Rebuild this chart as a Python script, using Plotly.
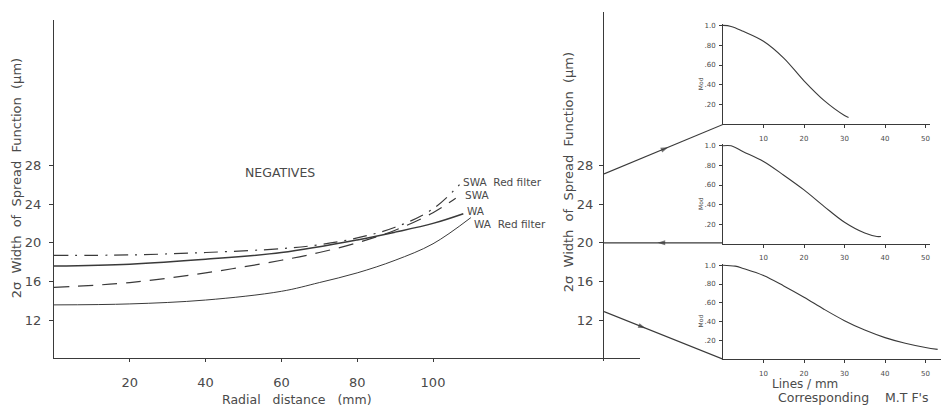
import plotly.graph_objects as go

W, H = 949, 408
OFF = 8              # page body margin in the browser
FW, FH = W - OFF, H - OFF

# ---------------- data ----------------
radial_ticks = [20, 40, 60, 80, 100]
width_ticks = [12, 16, 20, 24, 28]

swa_red_x = [0, 20, 40, 60, 70, 80, 90, 100, 107]
swa_red_y = [18.7, 18.75, 19.0, 19.4, 19.8, 20.5, 21.6, 23.5, 26.0]

swa_x = [0, 20, 40, 60, 70, 80, 90, 100, 106]
swa_y = [15.4, 15.9, 16.9, 18.2, 19.0, 20.0, 21.3, 23.1, 24.6]

wa_x = [0, 20, 40, 60, 80, 90, 100, 108]
wa_y = [17.6, 17.8, 18.3, 19.0, 20.3, 21.1, 22.0, 23.0]

wa_red_x = [0, 20, 40, 60, 70, 80, 90, 100, 110]
wa_red_y = [13.6, 13.7, 14.1, 15.0, 15.9, 16.9, 18.2, 19.9, 22.6]

curve_labels = ["SWA  Red filter", "SWA", "WA", "WA  Red filter"]

# connector lines: width value on axis -> level of MTF baseline
conn_start = [27.1, 20.0, 12.9]
conn_end = [32.2, 20.0, 8.0]
arrow_frac = [0.54, 0.45, 0.35]

mtf_top_x = [0, 2, 5, 10, 15, 20, 25, 30, 31]
mtf_top_y = [1.0, 0.99, 0.94, 0.84, 0.67, 0.44, 0.24, 0.09, 0.07]

mtf_mid_x = [0, 2, 5, 10, 15, 20, 25, 30, 35, 38, 39]
mtf_mid_y = [1.0, 1.0, 0.94, 0.84, 0.70, 0.55, 0.38, 0.22, 0.11, 0.075, 0.075]

mtf_bot_x = [0, 3, 5, 10, 15, 20, 25, 30, 35, 40, 45, 50, 53]
mtf_bot_y = [1.0, 0.99, 0.965, 0.89, 0.78, 0.66, 0.53, 0.41, 0.31, 0.23, 0.17, 0.125, 0.105]

mtf_xticks = [10, 20, 30, 40, 50]
mtf_yticks = [0.2, 0.4, 0.6, 0.8, 1.0]
mtf_ytext = [".20", ".40", ".60", ".80", "1.0"]

# ---------------- style ----------------
INK = "#3a3a3a"
TXT = "#4a4a4a"
FONT = "DejaVu Sans"


def dx(px):
    return (px - OFF) / FW


def dy(py):
    return 1 - (py - OFF) / FH


X_PX = 3.79   # px per mm
Y_PX = 9.75   # px per micron
M_PX = 4.05   # px per line/mm
Y0 = 8.1      # value at axis baseline (py 358)

fig = go.Figure()

# main curves
fig.add_trace(go.Scatter(x=swa_red_x, y=swa_red_y, mode="lines", line=dict(color=INK, width=1.2, dash="14px,7px,2px,7px", shape="spline"), xaxis="x", yaxis="y"))
fig.add_trace(go.Scatter(x=swa_x, y=swa_y, mode="lines", line=dict(color=INK, width=1.2, dash="15px,9px", shape="spline"), xaxis="x", yaxis="y"))
fig.add_trace(go.Scatter(x=wa_x, y=wa_y, mode="lines", line=dict(color=INK, width=1.5, shape="spline"), xaxis="x", yaxis="y"))
fig.add_trace(go.Scatter(x=wa_red_x, y=wa_red_y, mode="lines", line=dict(color=INK, width=1.0, shape="spline"), xaxis="x", yaxis="y"))

# curve end labels
ends = [(swa_red_x[-1], swa_red_y[-1], 2, 3), (swa_x[-1], swa_y[-1], 8, 3),
        (wa_x[-1], wa_y[-1], 3, 3), (wa_red_x[-1], wa_red_y[-1], 2, -6)]
annotations = []
for (ex, ey, xs, ys), lab in zip(ends, curve_labels):
    annotations.append(dict(x=ex, y=ey, xref="x", yref="y", text=lab, showarrow=False,
                            xanchor="left", yanchor="middle", xshift=xs, yshift=ys, borderpad=0,
                            font=dict(family=FONT, size=10.5, color=TXT)))

# connectors
orders = [False, True, False]
for s, e, f, rev in zip(conn_start, conn_end, arrow_frac, orders):
    xs = [0, f, 1]
    ys = [s, s + f * (e - s), e]
    if rev:
        xs = xs[::-1]
        ys = ys[::-1]
    fig.add_trace(go.Scatter(x=xs, y=ys, mode="lines+markers", xaxis="x2", yaxis="y2",
                             line=dict(color=INK, width=1.2),
                             marker=dict(symbol="arrow", size=[0, 8, 0], angleref="previous", color=INK,
                                         line=dict(width=0)),
                             cliponaxis=False))

# MTF curves
for mx, my, ax in [(mtf_top_x, mtf_top_y, "3"), (mtf_mid_x, mtf_mid_y, "4"), (mtf_bot_x, mtf_bot_y, "5")]:
    fig.add_trace(go.Scatter(x=mx, y=my, mode="lines", line=dict(color=INK, width=1.1, shape="spline"),
                             xaxis="x" + ax, yaxis="y" + ax))

axis_common = dict(showgrid=False, zeroline=False, showline=True, linecolor=INK, linewidth=1.2,
                   tickcolor=INK, ticks="outside")

layout = dict(
    width=FW, height=FH, autosize=False, showlegend=False,
    margin=dict(l=0, r=0, t=0, b=0, pad=0),
    paper_bgcolor="white", plot_bgcolor="rgba(0,0,0,0)",
    font=dict(family=FONT, color=TXT),
)

layout["xaxis"] = dict(axis_common, domain=[dx(54), dx(640)], range=[0, (640 - 54) / X_PX],
                       tickvals=radial_ticks, ticklen=3, ticklabelstandoff=9,
                       tickfont=dict(size=13, color=TXT), anchor="y")
layout["yaxis"] = dict(axis_common, domain=[dy(358), dy(18)], range=[Y0, Y0 + 340 / Y_PX],
                       tickvals=width_ticks, ticklen=4, ticklabelstandoff=5,
                       tickfont=dict(size=13, color=TXT), anchor="x")
layout["xaxis2"] = dict(domain=[dx(604), dx(723)], range=[0, 1], visible=False, anchor="y2")
layout["yaxis2"] = dict(axis_common, domain=[dy(361), dy(10)], range=[Y0 - 3 / Y_PX, Y0 + 348 / Y_PX],
                        tickvals=width_ticks, ticklen=4, ticklabelstandoff=3,
                        tickfont=dict(size=13, color=TXT), anchor="x2")

mtf_geo = [("3", 123, 22, 930), ("4", 243, 143, 930), ("5", 359, 263, 941)]
for ax, base, top, right in mtf_geo:
    layout["xaxis" + ax] = dict(axis_common, domain=[dx(723), dx(right)], range=[0, (right - 723) / M_PX],
                               tickvals=mtf_xticks, ticklen=3, ticklabelstandoff=4,
                               tickfont=dict(size=7, color=TXT), anchor="y" + ax, linewidth=1)
    layout["yaxis" + ax] = dict(axis_common, domain=[dy(base), dy(top)], range=[0, (base - top) / ((base - top) - 1.5)],
                               tickvals=mtf_yticks, ticktext=mtf_ytext, ticklen=3, ticklabelstandoff=2,
                               tickfont=dict(size=7, color=TXT), anchor="x" + ax, linewidth=1)
    annotations.append(dict(x=dx(700), y=dy((base + top) / 2 + 10), xref="paper", yref="paper", text="Mod",
                            textangle=-90, showarrow=False, xanchor="center", yanchor="middle",
                            font=dict(family=FONT, size=6, color=TXT)))

ytitle = "2σ  Width  of  Spread  Function  (μm)"
annotations += [
    dict(x=dx(16), y=dy(177), text=ytitle, textangle=-90, font=dict(family=FONT, size=13, color=TXT)),
    dict(x=dx(568), y=dy(171), text=ytitle, textangle=-90, font=dict(family=FONT, size=13, color=TXT)),
    dict(x=dx(297), y=dy(399), text="Radial   distance   (mm)", font=dict(family=FONT, size=12.5, color=TXT)),
    dict(x=dx(280), y=dy(171), text="NEGATIVES", font=dict(family=FONT, size=12.5, color=TXT)),
    dict(x=dx(805), y=dy(384), text="Lines / mm", font=dict(family=FONT, size=12, color=TXT)),
    dict(x=dx(853), y=dy(397), text="Corresponding    M.T F's", font=dict(family=FONT, size=12.5, color=TXT)),
]
for a in annotations[-6:]:
    a.update(xref="paper", yref="paper", showarrow=False, xanchor="center", yanchor="middle", borderpad=0)
layout["annotations"] = annotations

fig.update_layout(**layout)
fig.write_html("out.html")
